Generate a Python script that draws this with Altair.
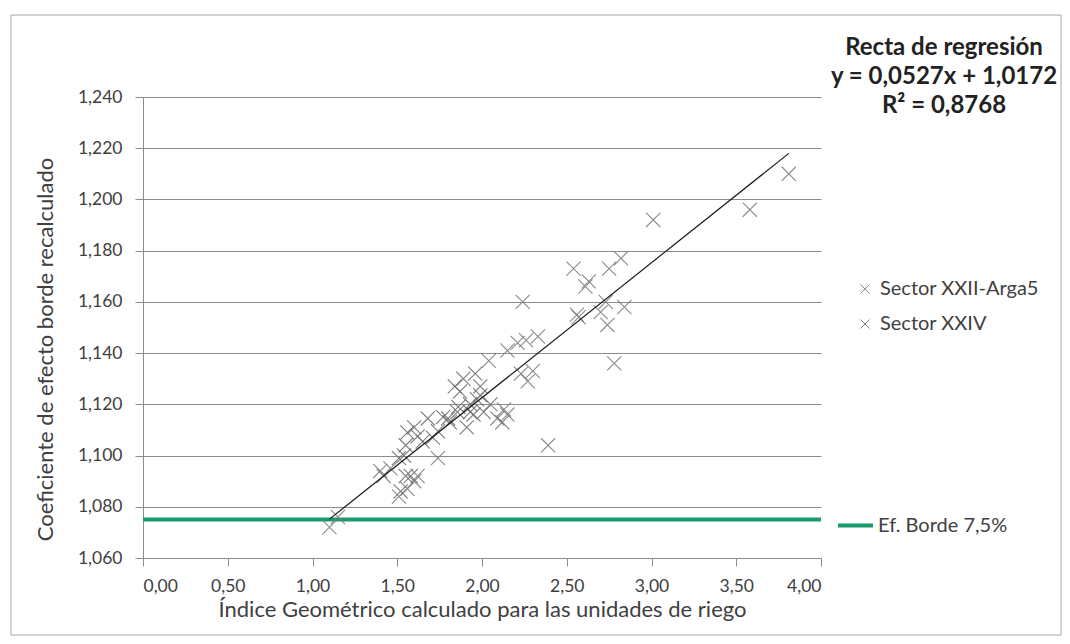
import altair as alt
import pandas as pd

# ---- data ----
sector_a_x = [3.81, 3.58, 3.01, 2.54, 2.63, 2.61, 2.75, 2.82, 2.24, 2.73, 2.84, 2.56, 2.70,
              2.57, 2.74, 2.78, 2.39, 2.33, 2.26, 2.21, 2.15, 2.04, 2.23, 2.27, 2.30, 2.13,
              2.15, 2.09, 2.05, 1.51, 1.60, 1.62, 1.56, 1.46, 1.40, 1.74, 1.10, 1.15]
sector_a_y = [1.210, 1.196, 1.192, 1.173, 1.168, 1.166, 1.173, 1.177, 1.160, 1.160, 1.158, 1.155, 1.156,
              1.154, 1.151, 1.136, 1.104, 1.1465, 1.145, 1.144, 1.141, 1.137, 1.132, 1.129, 1.133, 1.118,
              1.116, 1.1145, 1.120, 1.084, 1.090, 1.092, 1.087, 1.095, 1.094, 1.099, 1.072, 1.076]

sector_b_x = [1.96, 1.89, 1.84, 1.99, 1.93, 1.855, 1.80, 1.55, 1.54, 1.51, 1.55, 1.56, 1.62,
              1.60, 1.65, 1.68, 1.74, 1.77, 1.81, 1.71, 1.86, 1.93, 1.97, 1.95, 2.01, 2.12,
              1.91, 1.87, 1.99, 1.52, 1.42, 1.58]
sector_b_y = [1.132, 1.130, 1.127, 1.1235, 1.117, 1.117, 1.1145, 1.092, 1.100, 1.099, 1.104, 1.109, 1.1075,
              1.111, 1.1055, 1.1145, 1.1095, 1.115, 1.113, 1.107, 1.119, 1.120, 1.122, 1.116, 1.117, 1.113,
              1.111, 1.125, 1.127, 1.086, 1.092, 1.092]

series_names = ["Sector XXII-Arga5", "Sector XXIV"]
series_colors = ["#7f7f7f", "#6e6e6e"]

slope = 0.0527
intercept = 1.0172
border_value = 1.075
border_name = "Ef. Borde 7,5%"
border_color = "#179a6c"

annotation_lines = ["Recta de regresión", "y = 0,0527x + 1,0172", "R² = 0,8768"]

x_ticks = [0, 0.5, 1.0, 1.5, 2.0, 2.5, 3.0, 3.5, 4.0]
y_ticks = [1.06, 1.08, 1.10, 1.12, 1.14, 1.16, 1.18, 1.20, 1.22, 1.24]

x_title = "Índice Geométrico calculado para las unidades de riego"
y_title = "Coeficiente de efecto borde recalculado"

# ---- tables ----
pts = pd.concat([
    pd.DataFrame({"x": sector_a_x, "y": sector_a_y, "serie": series_names[0]}),
    pd.DataFrame({"x": sector_b_x, "y": sector_b_y, "serie": series_names[1]}),
])
xmin, xmax = pts["x"].min(), pts["x"].max()
reg = pd.DataFrame({"x": [xmin, xmax], "y": [slope * xmin + intercept, slope * xmax + intercept]})
border = pd.DataFrame({"y": [border_value], "serie": [border_name]})
ann = pd.DataFrame({"t": ["\n".join(annotation_lines)]})

FONT = "Lato"
W, H = 678, 461
X_PATH = "M-1,-1L1,1M-1,1L1,-1"
TXT = "#404040"

xscale = alt.Scale(domain=[0, 4], nice=False, zero=False)
yscale = alt.Scale(domain=[1.06, 1.24], nice=False, zero=False)

xaxis = alt.Axis(values=x_ticks, labelExpr="replace(format(datum.value, '.2f'), '.', ',')",
                 grid=False, tickSize=8, title=x_title, labelPadding=11, titlePadding=5)
yaxis = alt.Axis(values=y_ticks, labelExpr="replace(format(datum.value, '.3f'), '.', ',')",
                 grid=True, tickSize=8, title=y_title, labelPadding=13,
                 titleX=-98, titleY=252, titleAngle=-90, titleAlign="center", titleBaseline="middle")

frame = alt.Chart(alt.Data(values=[{}])).mark_rect(fill=None, stroke="#a6a6a6", strokeWidth=1).encode(
    x=alt.value(-132), x2=alt.value(918), y=alt.value(-82), y2=alt.value(538)
)

border_rule = alt.Chart(border).mark_rule(strokeWidth=4).encode(
    y=alt.Y("y:Q", scale=yscale, axis=yaxis),
    stroke=alt.Stroke("serie:N", scale=alt.Scale(domain=[border_name], range=[border_color]),
                      legend=alt.Legend(orient="none", legendX=693, legendY=409, title=None,
                                        symbolType="stroke", symbolStrokeWidth=4, symbolSize=1225,
                                        labelFontSize=20, labelFont=FONT, labelColor=TXT,
                                        padding=0, labelOffset=3)),
)

scatter = alt.Chart(pts).mark_point(shape=X_PATH, filled=False, size=200, strokeWidth=1.1, opacity=0.9).encode(
    x=alt.X("x:Q", scale=xscale, axis=xaxis),
    y=alt.Y("y:Q", scale=yscale, axis=yaxis),
    color=alt.Color("serie:N", scale=alt.Scale(domain=series_names, range=series_colors),
                    legend=alt.Legend(orient="none", legendX=712, legendY=182, title=None,
                                      symbolType=X_PATH, symbolSize=80, symbolStrokeWidth=1,
                                      labelFontSize=20, labelFont=FONT, labelColor=TXT,
                                      padding=0, rowPadding=15, labelOffset=5)),
)

reg_line = alt.Chart(reg).mark_line(color="#1a1a1a", strokeWidth=1.2).encode(
    x=alt.X("x:Q", scale=xscale), y=alt.Y("y:Q", scale=yscale)
)

ann_text = alt.Chart(ann).mark_text(font=FONT, fontWeight="bold", fontSize=24, color="#222222",
                                    align="center", baseline="middle", lineBreak="\n",
                                    lineHeight=29).encode(
    x=alt.value(801),
    y=alt.value(-49),
    text="t:N",
)

chart = alt.layer(frame, border_rule, scatter, reg_line, ann_text).properties(
    width=W, height=H,
    autosize=alt.AutoSizeParams(type="none"),
    padding={"left": 135, "top": 89, "right": 241, "bottom": 78},
).configure_view(stroke=None).configure_axis(
    labelFont=FONT, titleFont=FONT, labelFontSize=17.5, titleFontSize=22,
    labelColor=TXT, titleColor=TXT, titleFontWeight="normal",
    domainColor="#8c8c8c", tickColor="#8c8c8c", gridColor="#8c8c8c", gridWidth=1,
)

chart.save("out.html", embed_options={"renderer": "svg", "actions": False})
